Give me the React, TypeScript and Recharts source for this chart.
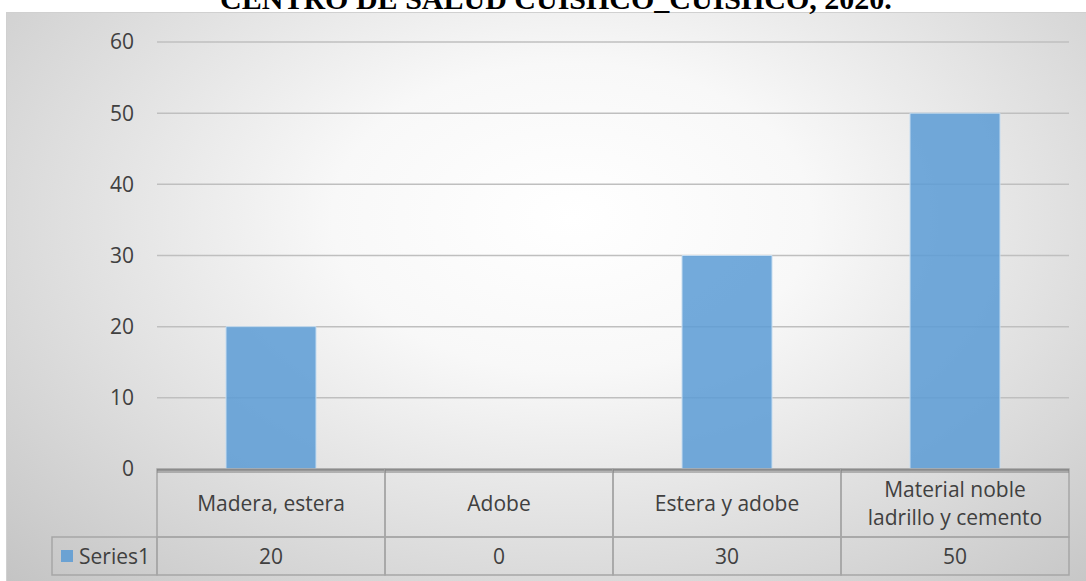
import { Bar, BarChart, CartesianGrid, XAxis, YAxis } from "recharts";

const title = "CENTRO DE SALUD CUISHCO_CUISHCO, 2020.";
const categories = [
  "Madera, estera",
  "Adobe",
  "Estera y adobe",
  "Material noble\nladrillo y cemento",
];
const series1 = [20, 0, 30, 50];
const yTicks = [0, 10, 20, 30, 40, 50, 60];
const seriesName = "Series1";

const W = 1086;
const H = 581;
const LEFT = 157;
const RIGHT = 17;
const TOP = 42;
const AXIS_H = 112;
const BAND = (W - LEFT - RIGHT) / categories.length;
const FONT = "'Open Sans', sans-serif";
const FS = 21;
const TEXT = "#404040";
const BORDER = "#a6a6a6";

const data = categories.map((name, i) => ({ name, value: series1[i] }));

function TableTick({ x, y, payload, index }: any) {
  const left = x - BAND / 2;
  const lines = String(payload.value).split("\n");
  const headH = 68;
  const rowH = 38;
  const midY = y + headH / 2;
  return (
    <g>
      <rect x={left} y={y} width={BAND} height={headH} fill="none" stroke={BORDER} strokeWidth={1.5} />
      <rect x={left} y={y + headH} width={BAND} height={rowH} fill="none" stroke={BORDER} strokeWidth={1.5} />
      <line x1={left} x2={left + BAND} y1={y + 1} y2={y + 1} stroke="#7f7f7f" strokeWidth={1.5} />
      <line x1={left} x2={left + BAND} y1={y + 3} y2={y + 3} stroke="#7f7f7f" strokeWidth={1.2} />
      <text
        x={x}
        y={midY - ((lines.length - 1) * 28) / 2}
        textAnchor="middle"
        dominantBaseline="central"
        fill={TEXT}
        fontSize={FS}
        fontFamily={FONT}
      >
        {lines.map((l, i) => (
          <tspan key={i} x={x} dy={i === 0 ? 0 : 28}>
            {l}
          </tspan>
        ))}
      </text>
      <text
        x={x}
        y={y + headH + rowH / 2}
        textAnchor="middle"
        dominantBaseline="central"
        fill={TEXT}
        fontSize={FS}
        fontFamily={FONT}
      >
        {series1[index]}
      </text>
      {index === 0 && (
        <g>
          <rect x={52} y={y + headH} width={left - 52} height={rowH} fill="none" stroke={BORDER} strokeWidth={1.5} />
          <rect x={61} y={y + headH + 13} width={12} height={12} fill="#5b9bd5" fillOpacity={0.85} />
          <text
            x={79}
            y={y + headH + rowH / 2}
            dominantBaseline="central"
            fill={TEXT}
            fontSize={FS}
            fontFamily={FONT}
          >
            {seriesName}
          </text>
        </g>
      )}
    </g>
  );
}

export default function App() {
  return (
    <div style={{ position: "fixed", left: 0, top: 0, width: W, height: H, background: "#fff", overflow: "hidden" }}>
      <div
        style={{
          position: "absolute",
          left: 6,
          top: 12,
          width: W,
          height: 568,
          border: "1px solid #d0d0d0",
          background:
            "radial-gradient(ellipse farthest-corner at 52% 36%, #ffffff 0%, #f8f8f8 30%, #c4c4c4 100%)",
        }}
      />
      <div
        style={{
          position: "absolute",
          left: 13,
          width: W,
          top: -16,
          textAlign: "center",
          fontFamily: "'Liberation Serif', serif",
          fontWeight: "bold",
          fontSize: 30,
          lineHeight: "30px",
          color: "#000",
          whiteSpace: "nowrap",
        }}
      >
        {title}
      </div>
      <div style={{ position: "absolute", left: 0, top: 0 }}>
        <BarChart
          width={W}
          height={H}
          data={data}
          margin={{ top: TOP, right: RIGHT, bottom: 0, left: 0 }}
        >
          <CartesianGrid vertical={false} stroke="#bfbfbf" strokeWidth={1.5} />
          <XAxis
            dataKey="name"
            height={AXIS_H}
            axisLine={false}
            tickLine={false}
            tickSize={0}
            tickMargin={0}
            interval={0}
            tick={<TableTick />}
          />
          <YAxis
            width={LEFT}
            domain={[0, 60]}
            ticks={yTicks}
            axisLine={false}
            tickLine={false}
            tickSize={0}
            tickMargin={23}
            tick={{ fill: TEXT, fontSize: FS, fontFamily: FONT }}
          />
          <Bar
            dataKey="value"
            barSize={90}
            fill="#5b9bd5"
            fillOpacity={0.85}
            stroke="#c5dcf0"
            strokeWidth={1}
            isAnimationActive={false}
          />
        </BarChart>
      </div>
    </div>
  );
}
